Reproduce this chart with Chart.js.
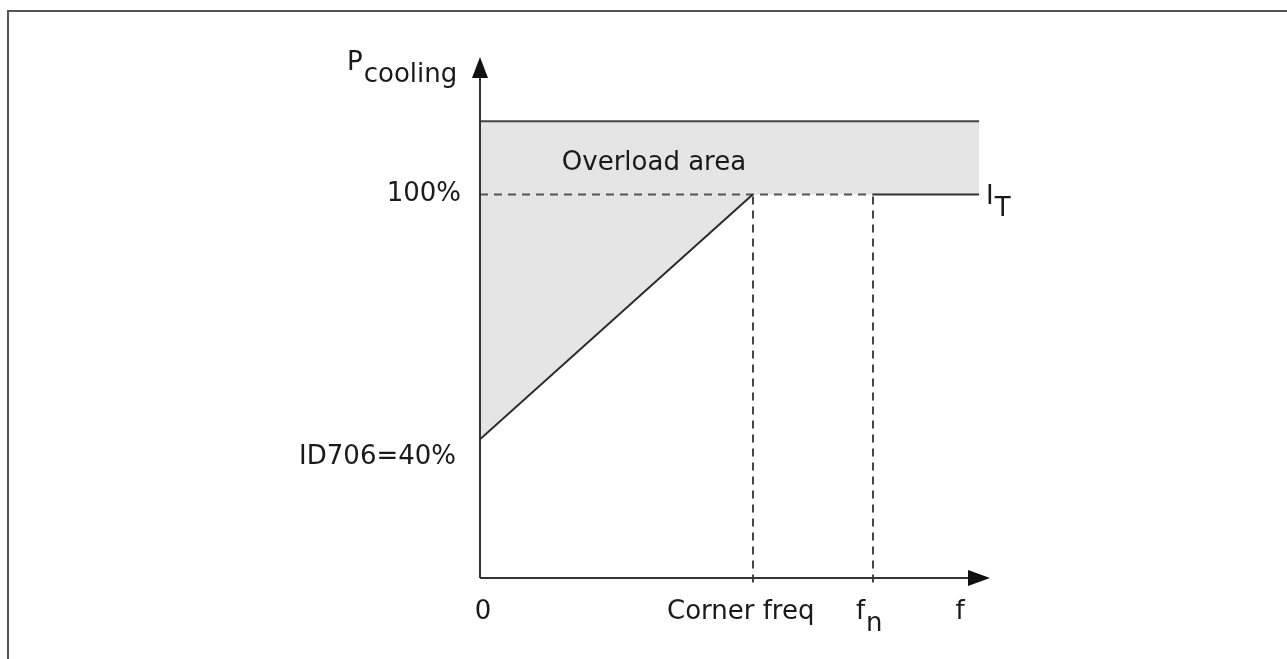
<!DOCTYPE html>
<html>
<head>
<meta charset="utf-8">
<script src="https://cdn.jsdelivr.net/npm/chart.js@4"></script>
<style>
  html, body { margin: 0; padding: 0; background: #fff; }
  #wrap { width: 1287px; height: 659px; position: relative; }
</style>
</head>
<body>
<div id="wrap"><canvas id="coolingChart" width="1287" height="659"></canvas></div>
<script>
// datos del diagrama (frecuencia en % de la frecuencia de esquina)
const freqs = [0, 100, 144, 183];
const coolingLimit = [40, 100, 100, 100];
const overloadTop = [118, 118, 118, 118];
const rampFreqs = [0, 100];
const rampValues = [40, 100];
const dashedFreqs = [0, 144];
const dashedLevel = [100, 100];
const itFreqs = [144, 183];
const itLevel = [100, 100];
const xTickLabels = ['0', 'Corner freq', 'f|n', 'f'];
const xTickValues = [0, 100, 144, 176];
const yTickLabels = ['100%', 'ID706=40%'];
const yTickValues = [100, 40];

const FONT = '26px "DejaVu Sans", Verdana, sans-serif';
const SUBFONT = '26px "DejaVu Sans", Verdana, sans-serif';

function pts(xs, ys) {
    return xs.map((x, i) => ({ x: x, y: ys[i] }));
}

// texto con subíndice "base|sub"
function drawSub(ctx, text, x, y, align) {
    const parts = text.split('|');
    ctx.font = FONT;
    const w1 = ctx.measureText(parts[0]).width;
    ctx.font = SUBFONT;
    const w2 = parts[1] ? ctx.measureText(parts[1]).width : 0;
    let left = x;
    if (align === 'center') left = x - (w1 + w2) / 2;
    if (align === 'right') left = x - (w1 + w2);
    ctx.textAlign = 'left';
    ctx.textBaseline = 'middle';
    ctx.font = FONT;
    ctx.fillText(parts[0], left, y);
    if (parts[1]) {
        ctx.font = SUBFONT;
        ctx.fillText(parts[1], left + w1 + 1, y + 12);
    }
}

const diagramPlugin = {
    id: 'diagram',
    beforeDraw(chart) {
        const ctx = chart.ctx;
        ctx.save();
        ctx.fillStyle = '#fff';
        ctx.fillRect(0, 0, chart.width, chart.height);
        // marco
        ctx.strokeStyle = '#555';
        ctx.lineWidth = 2;
        ctx.beginPath();
        ctx.moveTo(8, chart.height);
        ctx.lineTo(8, 11);
        ctx.lineTo(chart.width, 11);
        ctx.stroke();
        ctx.restore();
    },
    afterDatasetsDraw(chart) {
        const ctx = chart.ctx;
        const xs = chart.scales.x, ys = chart.scales.y;
        const a = chart.chartArea;
        ctx.save();
        // líneas verticales punteadas
        ctx.strokeStyle = '#444';
        ctx.lineWidth = 2;
        ctx.setLineDash([8, 6]);
        [100, 144].forEach(v => {
            const px = Math.round(xs.getPixelForValue(v));
            ctx.beginPath();
            ctx.moveTo(px, ys.getPixelForValue(100) + 2);
            ctx.lineTo(px, a.bottom + 8);
            ctx.stroke();
        });
        ctx.setLineDash([]);
        // ejes
        const x0 = xs.getPixelForValue(0);
        ctx.strokeStyle = '#333';
        ctx.fillStyle = '#111';
        ctx.lineWidth = 2;
        ctx.beginPath();
        ctx.moveTo(x0, a.bottom);
        ctx.lineTo(x0, a.top + 15);
        ctx.moveTo(x0, a.bottom);
        ctx.lineTo(a.right - 15, a.bottom);
        ctx.stroke();
        // flechas
        ctx.beginPath();
        ctx.moveTo(x0, a.top - 3);
        ctx.lineTo(x0 - 8, a.top + 18);
        ctx.lineTo(x0 + 8, a.top + 18);
        ctx.closePath();
        ctx.fill();
        ctx.beginPath();
        ctx.moveTo(a.right, a.bottom);
        ctx.lineTo(a.right - 22, a.bottom - 8);
        ctx.lineTo(a.right - 22, a.bottom + 8);
        ctx.closePath();
        ctx.fill();

        // textos
        ctx.fillStyle = '#1a1a1a';
        const tickY = a.bottom + 34;
        xTickLabels.forEach((t, i) => {
            let px = xs.getPixelForValue(xTickValues[i]);
            if (i === 0) px += 3;
            if (i === 1) px -= 12;
            if (i === 2) px -= 4;
            drawSub(ctx, t, px, tickY, 'center');
        });
        ctx.font = FONT;
        ctx.textAlign = 'right';
        ctx.textBaseline = 'middle';
        ctx.fillText(yTickLabels[0], x0 - 19, ys.getPixelForValue(yTickValues[0]));
        ctx.fillText(yTickLabels[1], x0 - 24, ys.getPixelForValue(yTickValues[1]) + 18);
        drawSub(ctx, 'P|cooling', x0 - 133, a.top + 3, 'left');
        drawSub(ctx, 'I|T', xs.getPixelForValue(freqs[3]) + 7, ys.getPixelForValue(100) + 3, 'left');
        ctx.textAlign = 'left';
        ctx.textBaseline = 'middle';
        ctx.font = FONT;
        ctx.fillText('Overload area', xs.getPixelForValue(30), ys.getPixelForValue(107.8));
        ctx.restore();
    }
};

const ctx = document.getElementById('coolingChart').getContext('2d');
new Chart(ctx, {
    type: 'line',
    data: {
        datasets: [
            {
                label: 'Overload top',
                data: pts(freqs, overloadTop),
                borderColor: '#444',
                borderWidth: 2,
                backgroundColor: '#e5e5e5',
                fill: '+1',
                pointRadius: 0,
                tension: 0
            },
            {
                label: 'Limit',
                data: pts(freqs, coolingLimit),
                borderWidth: 0,
                borderColor: 'rgba(0,0,0,0)',
                fill: false,
                pointRadius: 0,
                tension: 0
            },
            {
                label: 'Ramp',
                data: pts(rampFreqs, rampValues),
                borderColor: '#2a2a2a',
                borderWidth: 2,
                fill: false,
                pointRadius: 0
            },
            {
                label: '100%',
                data: pts(dashedFreqs, dashedLevel),
                borderColor: '#555',
                borderWidth: 2,
                borderDash: [8, 6],
                fill: false,
                pointRadius: 0
            },
            {
                label: 'I_T',
                data: pts(itFreqs, itLevel),
                borderColor: '#333',
                borderWidth: 2,
                fill: false,
                pointRadius: 0
            }
        ]
    },
    options: {
        responsive: false,
        animation: false,
        layout: {
            padding: { left: 480, right: 297, top: 60, bottom: 81 }
        },
        plugins: {
            legend: { display: false },
            tooltip: { enabled: false },
            filler: { drawTime: 'beforeDatasetsDraw' }
        },
        scales: {
            x: {
                type: 'linear',
                min: 0,
                max: 187,
                display: false
            },
            y: {
                type: 'linear',
                min: 6,
                max: 133,
                display: false
            }
        }
    },
    plugins: [diagramPlugin]
});
</script>
</body>
</html>
